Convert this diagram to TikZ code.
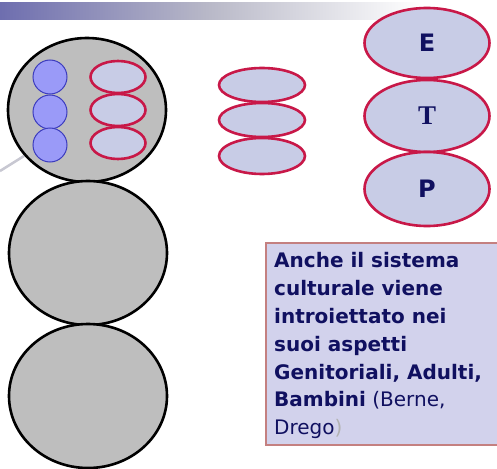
\documentclass[tikz,border=0pt]{standalone}
\usepackage{fontspec}
\usetikzlibrary{shapes.geometric}
\setmainfont{DejaVu Sans}
\newfontfamily\serifbold{Liberation Serif}
\definecolor{biggrey}{RGB}{190,190,190}
\definecolor{blueline}{RGB}{60,60,190}
\definecolor{bluefill}{RGB}{154,154,248}
\definecolor{redline}{RGB}{200,24,72}
\definecolor{palefill}{RGB}{200,204,230}
\definecolor{navy}{RGB}{16,16,96}
\definecolor{boxfill}{RGB}{210,210,236}
\definecolor{boxline}{RGB}{196,128,128}
\definecolor{barleft}{RGB}{110,110,175}
\definecolor{barmid}{RGB}{185,185,200}
\definecolor{diag}{RGB}{200,200,210}
\begin{document}
\begin{tikzpicture}[x=1pt,y=-1pt,
  bigc/.style={ellipse,draw=black,line width=2.6pt,fill=biggrey,minimum width=158pt,minimum height=144pt,inner sep=0pt},
  bluec/.style={circle,draw=blueline,line width=1pt,fill=bluefill,minimum size=34pt,inner sep=0pt},
  rede/.style={ellipse,draw=redline,line width=2.6pt,fill=palefill,inner sep=0pt},
  lbl/.style={text=navy,font=\bfseries\fontsize{24}{24}\selectfont}
]
\useasboundingbox (0,0) rectangle (497,468);
\fill[white] (0,0) rectangle (497,468);
% top gradient bar
\shade[left color=barleft, right color=white, middle color=barmid] (0,3) rectangle (420,20);
% grey diagonal
\draw[line width=2.5pt,color=diag] (0,171) -- (24,156);
% big circles
\node[bigc] (c1) at (87,110) {};
\node[bigc] (c2) at (88,253) {};
\node[bigc] (c3) at (88,396) {};
% blue circles
\node[bluec] (b1) at (50,77) {};
\node[bluec] (b2) at (50,112) {};
\node[bluec] (b3) at (50,145) {};
% red ellipses inside
\node[rede,minimum width=55pt,minimum height=32pt] (r1) at (118,77) {};
\node[rede,minimum width=55pt,minimum height=32pt] (r2) at (118,110) {};
\node[rede,minimum width=55pt,minimum height=32pt] (r3) at (118,143) {};
% middle ellipses
\node[rede,minimum width=86pt,minimum height=34pt] (m1) at (262,85) {};
\node[rede,minimum width=86pt,minimum height=34pt] (m2) at (262,120) {};
\node[rede,minimum width=86pt,minimum height=36pt] (m3) at (262,156) {};
% ETP
\node[rede,minimum width=125pt,minimum height=70pt,lbl] (e) at (427,43) {E};
\node[rede,minimum width=125pt,minimum height=72pt,lbl] (t) at (427,116) {\serifbold\bfseries\fontsize{27}{27}\selectfont T};
\node[rede,minimum width=125pt,minimum height=74pt,lbl] (p) at (427,189) {P};
% text box
\fill[boxfill] (266,243) rectangle (500,445);
\draw[line width=1.2pt,color=boxline] (500,243) -- (266,243) -- (266,445) -- (500,445);
\node[anchor=north west,align=left,inner sep=0pt,text=navy,
  font=\fontsize{20}{27.8}\selectfont] (txt) at (274,252.5)
  {\textbf{Anche il sistema}\\ \textbf{culturale viene}\\ \textbf{introiettato nei}\\ \textbf{suoi aspetti}\\ \textbf{Genitoriali, Adulti,}\\ \textbf{Bambini} (Berne,\\ Drego\textcolor{gray!60}{)}};
\end{tikzpicture}
\end{document}
